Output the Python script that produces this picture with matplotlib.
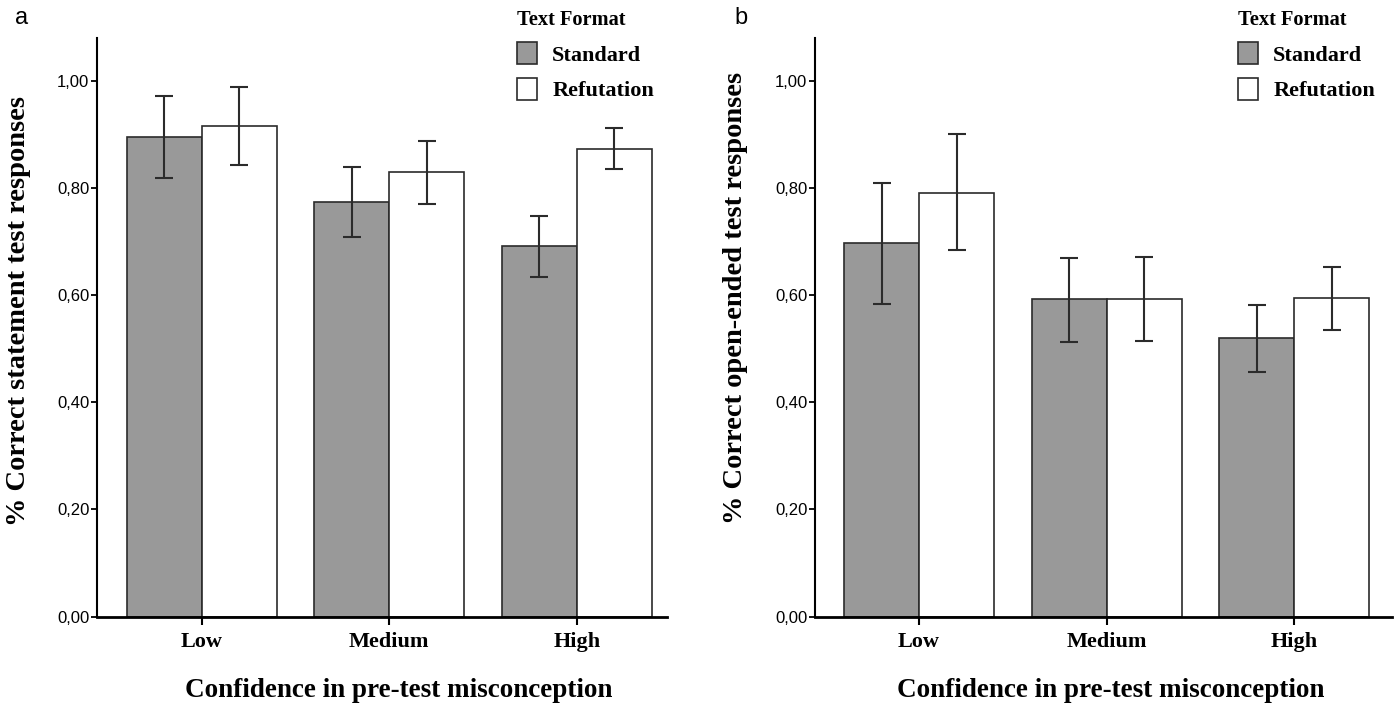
import numpy as np
import matplotlib
matplotlib.use('Agg')
import matplotlib.pyplot as plt
from matplotlib.ticker import FuncFormatter

# Data (means and CI bounds)
categories = ['Low', 'Medium', 'High']
series_names = ['Standard', 'Refutation']

# panel a: statement test
a_std_mean = [0.896, 0.774, 0.692]
a_std_lo = [0.818, 0.708, 0.634]
a_std_hi = [0.971, 0.840, 0.748]
a_ref_mean = [0.916, 0.830, 0.873]
a_ref_lo = [0.843, 0.770, 0.835]
a_ref_hi = [0.989, 0.888, 0.913]

# panel b: open-ended test
b_std_mean = [0.697, 0.592, 0.520]
b_std_lo = [0.583, 0.513, 0.456]
b_std_hi = [0.809, 0.670, 0.582]
b_ref_mean = [0.791, 0.593, 0.594]
b_ref_lo = [0.685, 0.515, 0.535]
b_ref_hi = [0.900, 0.671, 0.653]

y_ticks = [0.0, 0.2, 0.4, 0.6, 0.8, 1.0]

SERIF = 'Liberation Serif'
SANS = 'Liberation Sans'
GRAY = '#999999'
EDGE = '#2b2b2b'

fig = plt.figure(figsize=(14, 7.08), dpi=100)


def panel(rect, xlim, means, los, his, ylabel, letter, letter_x, leg_x, ylab_y, xlab_x):
    ax = fig.add_axes(rect)
    x = np.arange(len(categories))
    w = 0.4
    fills = [GRAY, 'white']
    for i, (m, lo, hi) in enumerate(zip(means, los, his)):
        m = np.array(m)
        pos = x - w / 2 + i * w
        ax.bar(pos, m, width=w, color=fills[i], edgecolor=EDGE, linewidth=1.2,
               label=series_names[i], zorder=2)
        yerr = [m - np.array(lo), np.array(hi) - m]
        ax.errorbar(pos, m, yerr=yerr, fmt='none', ecolor=EDGE, elinewidth=1.5,
                    capsize=6.8, capthick=1.5, zorder=3)

    ax.set_xlim(*xlim)
    ax.set_ylim(0, 1.08)
    ax.set_yticks(y_ticks)
    ax.yaxis.set_major_formatter(FuncFormatter(lambda v, p: f'{v:.2f}'.replace('.', ',')))
    ax.set_xticks(x)
    ax.set_xticklabels(categories, fontfamily=SERIF, fontweight='bold', fontsize=16)
    for t in ax.get_yticklabels():
        t.set_fontfamily(SANS)
        t.set_fontsize(12)
    ax.tick_params(axis='y', direction='out', length=4.5, width=1.3, pad=1)
    ax.tick_params(axis='x', direction='out', length=6, width=1.5, pad=5)

    for s in ['top', 'right']:
        ax.spines[s].set_visible(False)
    ax.spines['bottom'].set_linewidth(2.0)
    ax.spines['left'].set_linewidth(1.5)

    ax.set_ylabel(ylabel, fontfamily=SERIF, fontweight='bold', fontsize=20.5)
    ax.yaxis.label.set_verticalalignment('center')
    ax.yaxis.set_label_coords(-0.138, ylab_y)
    ax.set_xlabel('Confidence in pre-test misconception', fontfamily=SERIF,
                  fontweight='bold', fontsize=19.5)
    ax.xaxis.label.set_verticalalignment('center')
    ax.xaxis.set_label_coords(xlab_x, -0.128)

    fig.text(letter_x, 0.974, letter, fontfamily=SANS, fontsize=17, va='center', ha='center')

    ax.legend(loc='upper left', bbox_to_anchor=(leg_x, 0.986),
              bbox_transform=fig.transFigure, frameon=False,
              title='Text Format', alignment='left',
              prop={'family': SERIF, 'weight': 'bold', 'size': 16},
              title_fontproperties={'family': SERIF, 'weight': 'bold', 'size': 14.7},
              handlelength=0.9, handleheight=1.15, handletextpad=0.7,
              labelspacing=0.55, borderpad=0, borderaxespad=0)
    return ax


panel([0.0693, 0.1292, 0.4071, 0.817], (-0.558, 2.48),
      [a_std_mean, a_ref_mean], [a_std_lo, a_ref_lo], [a_std_hi, a_ref_hi],
      '% Correct statement test responses', 'a', 0.0157, 0.369, 0.528, 0.53)

panel([0.5821, 0.1292, 0.4121, 0.817], (-0.555, 2.52),
      [b_std_mean, b_ref_mean], [b_std_lo, b_ref_lo], [b_std_hi, b_ref_hi],
      '% Correct open-ended test responses', 'b', 0.529, 0.884, 0.55, 0.513)

fig.savefig('out.png', dpi=100)
